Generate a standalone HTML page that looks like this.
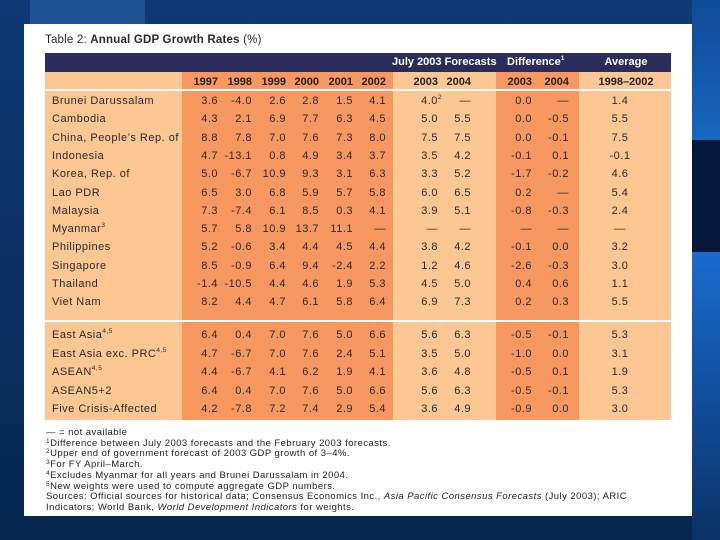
<!DOCTYPE html>
<html><head><meta charset="utf-8"><style>
*{margin:0;padding:0;box-sizing:border-box}
body{width:720px;height:540px;overflow:hidden;position:relative;background:linear-gradient(180deg,#0d3a74 0%,#0a2f60 60%,#06264f 100%);font-family:"Liberation Sans",sans-serif}
.abs{position:absolute}
#panel{left:24px;top:24px;width:668px;height:492px;background:#fff}
.t{position:absolute;font-size:11px;color:#2a2a2a;white-space:nowrap;line-height:14px;letter-spacing:0.5px}
.r{text-align:right}
.c{text-align:center}
.h{font-weight:bold;color:#fff;letter-spacing:0}
.y{font-weight:bold;color:#222;letter-spacing:0}
.fn{position:absolute;left:46px;font-size:9.5px;letter-spacing:0.45px;color:#222;white-space:nowrap;line-height:11px}
sup{font-size:6.5px;vertical-align:top;line-height:8px}
</style></head><body>
<div class="abs" style="left:30px;top:0;width:115px;height:24px;background:#1e5192"></div>
<div class="abs" style="left:692px;top:0;width:28px;height:140px;background:linear-gradient(180deg,#0e4a96,#1766c0)"></div>
<div class="abs" style="left:692px;top:140px;width:28px;height:112px;background:#07193a"></div>
<div class="abs" style="left:692px;top:252px;width:28px;height:288px;background:linear-gradient(180deg,#1a6ad0,#0a3366)"></div>
<div id="panel" class="abs"></div>
<div class="t" style="left:45px;top:33px;font-size:11.5px;letter-spacing:0.2px">Table 2: <b>Annual GDP Growth Rates</b> (%)</div>
<div id="tbl"></div>
<div id="notes"></div>
<script>
const countries=["Brunei Darussalam","Cambodia","China, People’s Rep. of","Indonesia","Korea, Rep. of","Lao PDR","Malaysia","Myanmar<sup>3</sup>","Philippines","Singapore","Thailand","Viet Nam"];
const aggregates=["East Asia<sup>4,5</sup>","East Asia exc. PRC<sup>4,5</sup>","ASEAN<sup>4,5</sup>","ASEAN5+2","Five Crisis-Affected"];
const histValues=[
["3.6","-4.0","2.6","2.8","1.5","4.1"],["4.3","2.1","6.9","7.7","6.3","4.5"],["8.8","7.8","7.0","7.6","7.3","8.0"],["4.7","-13.1","0.8","4.9","3.4","3.7"],["5.0","-6.7","10.9","9.3","3.1","6.3"],["6.5","3.0","6.8","5.9","5.7","5.8"],["7.3","-7.4","6.1","8.5","0.3","4.1"],["5.7","5.8","10.9","13.7","11.1","—"],["5.2","-0.6","3.4","4.4","4.5","4.4"],["8.5","-0.9","6.4","9.4","-2.4","2.2"],["-1.4","-10.5","4.4","4.6","1.9","5.3"],["8.2","4.4","4.7","6.1","5.8","6.4"]];
const forecastValues=[["4.0<sup>2</sup>","—"],["5.0","5.5"],["7.5","7.5"],["3.5","4.2"],["3.3","5.2"],["6.0","6.5"],["3.9","5.1"],["—","—"],["3.8","4.2"],["1.2","4.6"],["4.5","5.0"],["6.9","7.3"]];
const diffValues=[["0.0","—"],["0.0","-0.5"],["0.0","-0.1"],["-0.1","0.1"],["-1.7","-0.2"],["0.2","—"],["-0.8","-0.3"],["—","—"],["-0.1","0.0"],["-2.6","-0.3"],["0.4","0.6"],["0.2","0.3"]];
const avgValues=["1.4","5.5","7.5","-0.1","4.6","5.4","2.4","—","3.2","3.0","1.1","5.5"];
const aggHist=[["6.4","0.4","7.0","7.6","5.0","6.6"],["4.7","-6.7","7.0","7.6","2.4","5.1"],["4.4","-6.7","4.1","6.2","1.9","4.1"],["6.4","0.4","7.0","7.6","5.0","6.6"],["4.2","-7.8","7.2","7.4","2.9","5.4"]];
const aggForecast=[["5.6","6.3"],["3.5","5.0"],["3.6","4.8"],["5.6","6.3"],["3.6","4.9"]];
const aggDiff=[["-0.5","-0.1"],["-1.0","0.0"],["-0.5","0.1"],["-0.5","-0.1"],["-0.9","0.0"]];
const aggAvg=["5.3","3.1","1.9","5.3","3.0"];
const yearLabels=["1997","1998","1999","2000","2001","2002"];
const footnotes=["— = not available","<sup>1</sup>Difference between July 2003 forecasts and the February 2003 forecasts.","<sup>2</sup>Upper end of government forecast of 2003 GDP growth of 3–4%.","<sup>3</sup>For FY April–March.","<sup>4</sup>Excludes Myanmar for all years and Brunei Darussalam in 2004.","<sup>5</sup>New weights were used to compute aggregate GDP numbers.","Sources: Official sources for historical data; Consensus Economics Inc., <i>Asia Pacific Consensus Forecasts</i> (July 2003); ARIC","Indicators; World Bank, <i>World Development Indicators</i> for weights."];

const T=document.getElementById('tbl');
function box(x,y,w,h,c,name){const d=document.createElement('div');d.className='abs';d.style.cssText=`left:${x}px;top:${y}px;width:${w}px;height:${h}px;background:${c}`;


T.appendChild(d);}
function txt(html,x,y,align,extra,name,w){const d=document.createElement('div');d.className='t '+extra;d.innerHTML=html;
if(align==='r'){d.style.left=(x-80)+'px';d.style.width='80px';d.style.textAlign='right';}
else if(align==='c'){d.style.left=(x-(w||60)/2)+'px';d.style.width=(w||60)+'px';d.style.textAlign='center';}
else d.style.left=x+'px';
d.style.top=(y-7)+'px';


T.appendChild(d);}
const LIGHT='#fdc794',DARK='#f79860',NAVY='#2b2c5c';
const cols=[45,182,393,496,579,671];
box(45,53,626,19,NAVY,'header-bar');
[[0,LIGHT],[1,DARK],[2,LIGHT],[3,DARK],[4,LIGHT]].forEach(([i,c])=>{
  box(cols[i],72,cols[i+1]-cols[i],17,c,'year-row-band');
  box(cols[i],91,cols[i+1]-cols[i],229,c,'country-section-band');
  box(cols[i],322,cols[i+1]-cols[i],98,c,'aggregate-section-band');
});
txt('July 2003 Forecasts',392,62,'l','h','forecast-header');
txt('Difference<sup>1</sup>',507,62,'l','h','difference-header');
txt('Average',626,62,'c','h','average-header',80);
const histR=[218,252,286,319,353,386];
const fcR=[438,471], dfR=[532,569], avgC=620;
yearLabels.forEach((l,i)=>txt(l,histR[i],82,'r','y','year-header-'+l));
txt('2003',fcR[0],82,'r','y','forecast-year-2003');txt('2004',fcR[1],82,'r','y','forecast-year-2004');
txt('2003',dfR[0],82,'r','y','difference-year-2003');txt('2004',dfR[1],82,'r','y','difference-year-2004');
txt('1998–2002',626,82,'c','y','average-period',80);
function rows(labels,hist,fc,df,avg,y0,step,prefix){
  labels.forEach((lab,r)=>{const y=y0+r*step;
    txt(lab,52,y,'l','',prefix+'-label');
    hist[r].forEach((v,i)=>txt(v,histR[i],y,'r','',prefix+'-value'));
    fc[r].forEach((v,i)=>txt(v,fcR[i]+(v.includes('sup')?4:0),y,'r','',prefix+'-forecast'));
    df[r].forEach((v,i)=>txt(v,dfR[i],y,'r','',prefix+'-difference'));
    txt(avg[r],avgC,y,'c','',prefix+'-average');
  });
}
rows(countries,histValues,forecastValues,diffValues,avgValues,101,18.3,'country');
rows(aggregates,aggHist,aggForecast,aggDiff,aggAvg,335,18.5,'aggregate');
const N=document.getElementById('notes');
footnotes.forEach((f,i)=>{const d=document.createElement('div');d.className='fn';d.innerHTML=f;d.style.top=(427+i*10.7)+'px';


N.appendChild(d);});
</script>
</body></html>
